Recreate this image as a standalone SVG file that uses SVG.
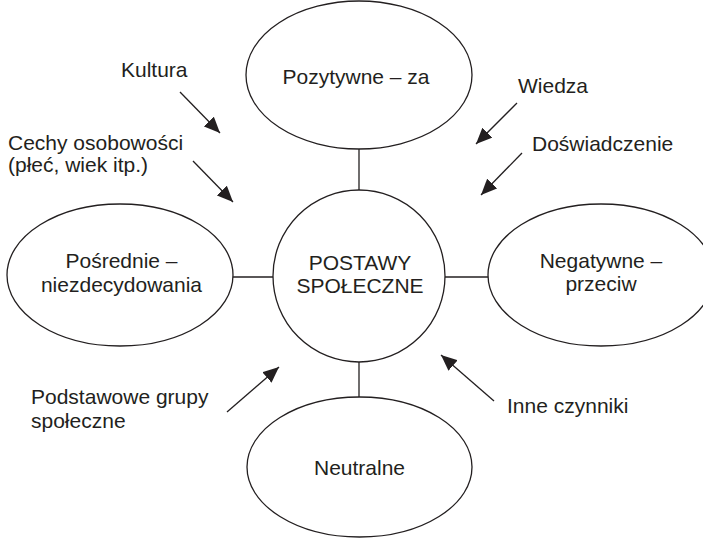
<svg xmlns="http://www.w3.org/2000/svg" width="703" height="538" viewBox="0 0 703 538">
<style>
.shape{fill:#fff;stroke:#231f20;stroke-width:1.3}
.conn line{stroke:#231f20;stroke-width:1.3}
text{font-family:"Liberation Sans",Arial,sans-serif;font-size:21px;fill:#231f20}
.c{text-anchor:middle}
</style>
<defs>
<marker id="ah" markerUnits="userSpaceOnUse" markerWidth="18" markerHeight="14" refX="16" refY="7" orient="auto">
<path d="M0,0 L16,7 L0,14 Z" fill="#231f20"/>
</marker>
</defs>
<rect width="703" height="538" fill="#fff"/>
<g id="connectors" class="conn">
<line x1="359" y1="149" x2="359" y2="190"/>
<line x1="359" y1="362" x2="359" y2="397"/>
<line x1="233" y1="277" x2="273" y2="277"/>
<line x1="445" y1="277" x2="488" y2="277"/>
<line x1="180" y1="92" x2="220" y2="133" marker-end="url(#ah)"/>
<line x1="193" y1="161" x2="233" y2="202" marker-end="url(#ah)"/>
<line x1="517" y1="103" x2="476" y2="144" marker-end="url(#ah)"/>
<line x1="522" y1="153" x2="481" y2="195" marker-end="url(#ah)"/>
<line x1="227" y1="412" x2="279" y2="367" marker-end="url(#ah)"/>
<line x1="494" y1="401" x2="441" y2="355" marker-end="url(#ah)"/>
</g>
<g id="center">
<circle class="shape" cx="359" cy="276" r="86"/>
<text class="c" x="360" y="270">POSTAWY</text>
<text class="c" x="360" y="293">SPOŁECZNE</text>
</g>
<g id="pozytywne">
<ellipse class="shape" cx="359" cy="75" rx="113" ry="74"/>
<text class="c" x="356" y="84">Pozytywne – za</text>
</g>
<g id="posrednie">
<ellipse class="shape" cx="120" cy="275" rx="113" ry="71"/>
<text class="c" x="121.5" y="268">Pośrednie –</text>
<text class="c" x="121.5" y="292">niezdecydowania</text>
</g>
<g id="negatywne">
<ellipse class="shape" cx="601" cy="275" rx="113" ry="71"/>
<text class="c" x="601" y="268">Negatywne –</text>
<text class="c" x="601" y="291">przeciw</text>
</g>
<g id="neutralne">
<ellipse class="shape" cx="359.5" cy="467" rx="112.5" ry="70"/>
<text class="c" x="359.5" y="475">Neutralne</text>
</g>
<g id="kultura"><text x="121" y="77">Kultura</text></g>
<g id="cechy">
<text x="8" y="150">Cechy osobowości</text>
<text x="8" y="172">(płeć, wiek itp.)</text>
</g>
<g id="wiedza"><text x="518" y="93">Wiedza</text></g>
<g id="doswiadczenie"><text x="532" y="151">Doświadczenie</text></g>
<g id="podstawowe">
<text x="31" y="404">Podstawowe grupy</text>
<text x="31" y="428">społeczne</text>
</g>
<g id="inne"><text x="507" y="413">Inne czynniki</text></g>
</svg>
